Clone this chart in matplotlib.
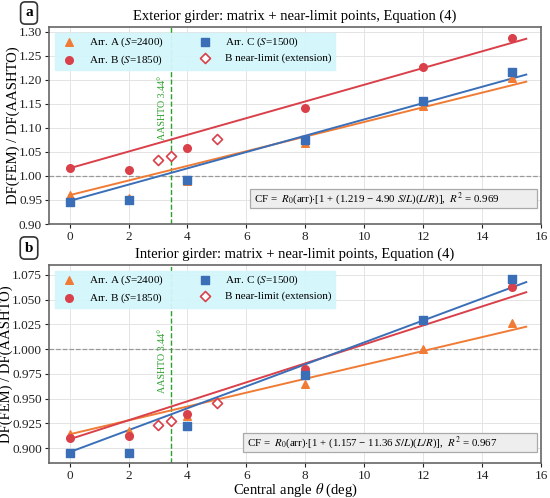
import numpy as np
import matplotlib
matplotlib.use("Agg")
import matplotlib.pyplot as plt
from matplotlib.patches import Rectangle

plt.rcParams['font.family'] = ['Liberation Serif', 'DejaVu Serif']
plt.rcParams['mathtext.fontset'] = 'stix'

# ---- data ----
theta = [0, 2, 4, 8, 12, 15]
theta_nl = [3, 3.44, 5]
span_L = 38000.0  # mm, used with S/L in Equation (4)
spacing = {'A': 2400, 'B': 1850, 'C': 1500}

# exterior girder
ext_A = [0.960, 0.955, 0.990, 1.069, 1.146, 1.204]
ext_B = [1.016, 1.013, 1.058, 1.142, 1.226, 1.288]
ext_C = [0.946, 0.950, 0.992, 1.075, 1.157, 1.217]
ext_nl = [1.034, 1.042, 1.077]
ext_R0 = {'A': 0.960, 'B': 1.016, 'C': 0.948}
ext_coef = (1.219, 4.90)
ext_r2 = 0.969

# interior girder
int_A = [0.914, 0.917, 0.932, 0.965, 1.000, 1.026]
int_B = [0.910, 0.912, 0.934, 0.980, 1.028, 1.063]
int_C = [0.895, 0.895, 0.922, 0.974, 1.0295, 1.071]
int_nl = [0.9235, 0.927, 0.946]
int_R0 = {'A': 0.914, 'B': 0.909, 'C': 0.896}
int_coef = (1.157, 11.36)
int_r2 = 0.967

c_A = '#f07b35'
c_B = '#d9404a'
c_C = '#3a6fb8'
c_green = '#2ca02c'


def draw_panel(ax, A, B, C, nl, R0, coef, r2, title, ylim, yticks, ytfmt, aashto_y, eqbox, ylab_x):
    ax.grid(True, color='#e4e4e4', lw=0.7)
    ax.set_axisbelow(True)
    tt = np.linspace(0, 15.5, 50)
    for key, col in (('A', c_A), ('B', c_B), ('C', c_C)):
        k = coef[0] - coef[1] * spacing[key] / span_L
        ax.plot(tt, R0[key] * (1 + k * np.radians(tt)), color=col, lw=1.4, zorder=2)
    ax.scatter(theta, A, marker='^', s=30, color=c_A, zorder=3, label='Arr. A ($S$=2400)')
    ax.scatter(theta, B, marker='o', s=30, color=c_B, zorder=3, label='Arr. B ($S$=1850)')
    ax.scatter(theta, C, marker='s', s=30, color=c_C, zorder=4, label='Arr. C ($S$=1500)')
    ax.scatter(theta_nl, nl, marker='D', s=26, facecolor='white', edgecolor=c_B,
               linewidth=1.2, zorder=4, label='B near-limit (extension)')
    ax.axhline(1.0, color='#999999', ls='--', lw=0.9, zorder=1)
    ax.axvline(3.44, color=c_green, ls='--', lw=1.0, zorder=1)
    ax.text(3.16, aashto_y, 'AASHTO 3.44°', rotation=90, color=c_green,
            fontsize=7.2, ha='center', va='center')
    ax.set_xlim(-0.7, 16)
    ax.set_ylim(*ylim)
    ax.set_xticks(range(0, 17, 2))
    ax.set_yticks(yticks)
    ax.set_yticklabels([ytfmt % v for v in yticks])
    ax.tick_params(labelsize=9.5, colors='#222222', length=3, pad=2)
    for sp in ax.spines.values():
        sp.set_color('#666666')
        sp.set_linewidth(1.2)
    ax.set_title(title, fontsize=10.5, pad=5)
    ax.set_ylabel('DF(FEM) / DF(AASHTO)', fontsize=10.5)
    ax.yaxis.set_label_coords(ylab_x, 0.5)
    ax.legend(loc='upper left', ncol=2, fontsize=8, frameon=True, fancybox=False,
              facecolor='#d3f6fb', edgecolor='#d3f6fb', framealpha=0.95,
              borderaxespad=0.5, columnspacing=2.7, handletextpad=0.8,
              borderpad=0.3, labelspacing=0.35)
    x0, y0, x1, y1 = eqbox
    ax.add_patch(Rectangle((x0, y0), x1 - x0, y1 - y0, transform=ax.transAxes,
                           facecolor='#eeeeee', edgecolor='#aaaaaa', lw=0.9, zorder=5))
    eq = ('CF =  $R_0$(arr)$\\cdot$[1 + (%.3f \u2212 %.2f $S/L$)($L/R$)],  $R^2$ = %.3f'
          % (coef[0], coef[1], r2))
    ax.text(x0 + 0.008, (y0 + y1) / 2, eq, transform=ax.transAxes, ha='left', va='center',
            fontsize=7.8, zorder=6)


fig = plt.figure(figsize=(5.5, 4.98), dpi=100)
W, H = 550.0, 498.0
ax1 = fig.add_axes([49 / W, 1 - 224 / H, 492 / W, 197 / H])
ax2 = fig.add_axes([49 / W, 1 - 463 / H, 492 / W, 198 / H])

draw_panel(ax1, ext_A, ext_B, ext_C, ext_nl, ext_R0, ext_coef, ext_r2,
           'Exterior girder: matrix + near-limit points, Equation (4)',
           (0.90, 1.31), [0.90, 0.95, 1.00, 1.05, 1.10, 1.15, 1.20, 1.25, 1.30], '%.2f', 1.141,
           (0.4085, 0.081, 0.992, 0.177), -0.059)
draw_panel(ax2, int_A, int_B, int_C, int_nl, int_R0, int_coef, int_r2,
           'Interior girder: matrix + near-limit points, Equation (4)',
           (0.885, 1.085), [0.900, 0.925, 0.950, 0.975, 1.000, 1.025, 1.050, 1.075], '%.3f', 0.988,
           (0.394, 0.0556, 0.992, 0.152), -0.073)
ax2.set_xlabel('Central angle $\\theta$ (deg)', fontsize=10.5)
ax2.xaxis.set_label_coords(0.5, -0.094)

for lab, ypix in (('a', 13), ('b', 248)):
    fig.text(29 / W, 1 - ypix / H, lab, fontsize=11, fontweight='bold', ha='center', va='center',
             bbox=dict(boxstyle='round,pad=0.3', facecolor='white', edgecolor='#333333', lw=1.2))

fig.savefig('out.png', dpi=100)
